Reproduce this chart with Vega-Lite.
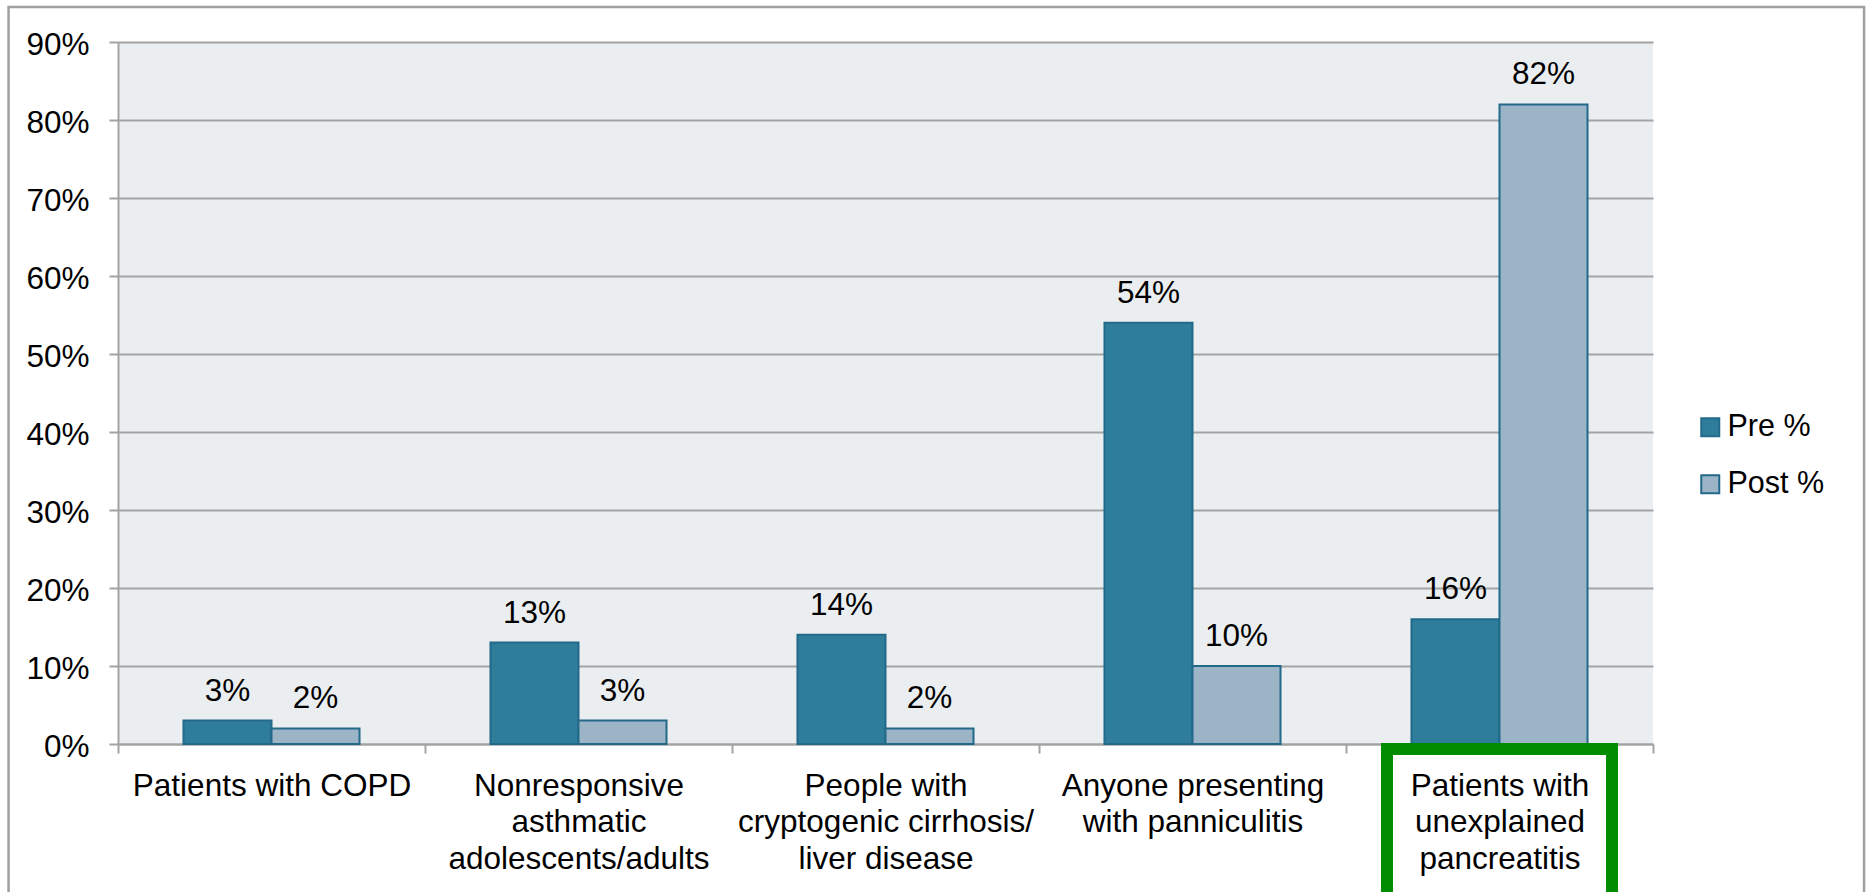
{
  "$schema": "https://vega.github.io/schema/vega-lite/v6.json",
  "autosize": {"type": "none"},
  "width": 1535,
  "height": 702,
  "padding": {"left": 118, "top": 42, "right": 213, "bottom": 148},
  "background": "#ffffff",
  "config": {
    "font": "Liberation Sans",
    "view": {"fill": "#EBEEF1", "stroke": null}
  },
  "datasets": {
    "rates": [
      {"category": "Patients with COPD", "series": "Pre %", "value": 0.03},
      {"category": "Patients with COPD", "series": "Post %", "value": 0.02},
      {"category": "Nonresponsive|asthmatic|adolescents/adults", "series": "Pre %", "value": 0.13},
      {"category": "Nonresponsive|asthmatic|adolescents/adults", "series": "Post %", "value": 0.03},
      {"category": "People with|cryptogenic cirrhosis/|liver disease", "series": "Pre %", "value": 0.14},
      {"category": "People with|cryptogenic cirrhosis/|liver disease", "series": "Post %", "value": 0.02},
      {"category": "Anyone presenting|with panniculitis", "series": "Pre %", "value": 0.54},
      {"category": "Anyone presenting|with panniculitis", "series": "Post %", "value": 0.10},
      {"category": "Patients with|unexplained|pancreatitis", "series": "Pre %", "value": 0.16},
      {"category": "Patients with|unexplained|pancreatitis", "series": "Post %", "value": 0.82}
    ],
    "highlight": [
      {"category": "Patients with|unexplained|pancreatitis", "top": -0.0064, "bottom": -0.2}
    ],
    "frame": [
      {"left": -0.0713, "right": 1.1375, "top": 1.0499, "bottom": -0.222}
    ]
  },
  "layer": [
    {
      "description": "outer chart border",
      "data": {"name": "frame"},
      "mark": {"type": "rect", "filled": false, "stroke": "#a0a0a0", "strokeWidth": 2.5},
      "encoding": {
        "x": {"field": "left", "type": "quantitative", "axis": null, "scale": {"domain": [0, 1], "nice": false, "zero": false}},
        "x2": {"field": "right"},
        "y": {"field": "top", "type": "quantitative", "axis": null, "scale": {"domain": [0, 1], "nice": false, "zero": false}},
        "y2": {"field": "bottom"}
      }
    },
    {
      "layer": [
        {
          "data": {"name": "rates"},
          "mark": {"type": "bar", "stroke": "#23698a", "strokeWidth": 2},
          "encoding": {
            "x": {
              "field": "category", "type": "nominal", "sort": null, "title": null,
              "scale": {"paddingInner": 0, "paddingOuter": 0},
              "axis": {
                "labelExpr": "split(datum.label, '|')",
                "labelAngle": 0,
                "labelFontSize": 31.5,
                "labelColor": "#000000",
                "labelBaseline": "alphabetic",
                "labelPadding": 42,
                "labelLineHeight": 36.7,
                "labelLimit": 500,
                "tickBand": "extent",
                "tickSize": 9,
                "tickColor": "#a3a3a3",
                "tickWidth": 2,
                "domainColor": "#a3a3a3",
                "domainWidth": 2,
                "grid": false
              }
            },
            "xOffset": {
              "field": "series", "type": "nominal", "sort": ["Pre %", "Post %"],
              "scale": {"paddingInner": 0, "paddingOuter": 0.744}
            },
            "y": {
              "field": "value", "type": "quantitative", "title": null,
              "scale": {"domain": [0, 0.9], "nice": false},
              "axis": {
                "values": [0, 0.1, 0.2, 0.3, 0.4, 0.5, 0.6, 0.7, 0.8, 0.9],
                "format": ".0%",
                "labelFontSize": 31.5,
                "labelColor": "#000000",
                "labelPadding": 20,
                "labelBaseline": "middle",
                "labelOffset": 3,
                "tickSize": 9,
                "tickColor": "#a3a3a3",
                "tickWidth": 2,
                "domainColor": "#a3a3a3",
                "domainWidth": 2,
                "grid": true,
                "gridColor": "#a3a3a3",
                "gridWidth": 2
              }
            },
            "color": {
              "field": "series", "type": "nominal", "title": null,
              "scale": {"domain": ["Pre %", "Post %"], "range": ["#2E7E9B", "#9BB4C6"]},
              "legend": {
                "orient": "none",
                "legendX": 1577,
                "legendY": 370,
                "padding": 0,
                "symbolType": "square",
                "symbolSize": 324,
                "symbolStrokeColor": "#23698a",
                "symbolStrokeWidth": 2,
                "labelFontSize": 30.5,
                "labelColor": "#000000",
                "labelOffset": 2,
                "labelLimit": 300,
                "rowPadding": 26
              }
            }
          }
        },
        {
          "data": {"name": "rates"},
          "mark": {"type": "text", "baseline": "alphabetic", "dy": -20, "fontSize": 31.5, "color": "#000000"},
          "encoding": {
            "x": {"field": "category", "type": "nominal", "sort": null, "scale": {"paddingInner": 0, "paddingOuter": 0}},
            "xOffset": {"field": "series", "type": "nominal", "sort": ["Pre %", "Post %"], "scale": {"paddingInner": 0, "paddingOuter": 0.744}},
            "y": {"field": "value", "type": "quantitative", "scale": {"domain": [0, 0.9], "nice": false}},
            "text": {"field": "value", "type": "quantitative", "format": ".0%"}
          }
        },
        {
          "description": "green outline around the pancreatitis category",
          "data": {"name": "highlight"},
          "mark": {"type": "bar", "filled": false, "stroke": "#008C00", "strokeWidth": 12, "width": {"band": 0.733}},
          "encoding": {
            "x": {"field": "category", "type": "nominal", "sort": null, "scale": {"paddingInner": 0, "paddingOuter": 0}},
            "y": {"field": "top", "type": "quantitative", "scale": {"domain": [0, 0.9], "nice": false}},
            "y2": {"field": "bottom"}
          }
        }
      ]
    }
  ],
  "resolve": {
    "scale": {"x": "independent", "y": "independent"},
    "axis": {"x": "independent", "y": "independent"}
  }
}
